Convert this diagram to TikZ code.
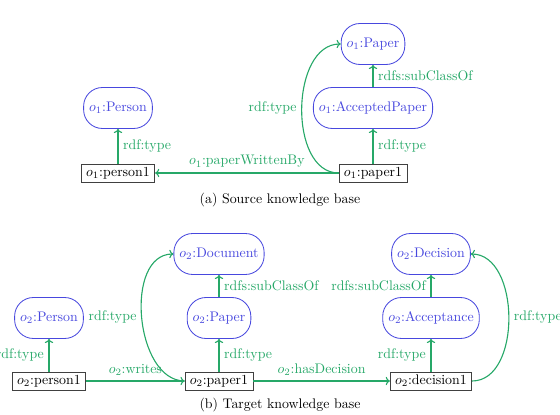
\documentclass[tikz,border=0pt]{standalone}
\usetikzlibrary{arrows.meta}
\definecolor{cblue}{RGB}{72,72,222}
\definecolor{cgreen}{RGB}{38,168,104}
\tikzset{
  classnode/.style={draw=cblue, text=cblue, rounded corners=13.5pt, minimum height=29.5pt, inner xsep=4pt, line width=0.6pt},
  instnode/.style={draw=black!75, text=black, minimum height=13pt, inner xsep=3.5pt, inner ysep=2pt, line width=0.6pt},
  edge/.style={draw=cgreen, line width=0.8pt, -{To[length=3pt,width=6pt]}},
  elabel/.style={text=cgreen, font=\normalsize},
}
\begin{document}
\begin{tikzpicture}[x=0.72pt,y=-0.72pt]
\useasboundingbox (0,0) rectangle (560,415);
% (a) source
\node[classnode] (a1person) at (118,108) {$o_1$:Person};
\node[instnode] (a1person1) at (118,173) {$o_1$:person1};
\node[instnode] (a1paper1) at (373,173) {$o_1$:paper1};
\node[classnode] (a1acc) at (373,108) {$o_1$:AcceptedPaper};
\node[classnode] (a1paper) at (373,44) {$o_1$:Paper};
\draw[edge] (a1person1) -- node[elabel,right] {rdf:type} (a1person);
\draw[edge] (a1paper1) -- node[elabel,above] {$o_1$:paperWrittenBy} (a1person1);
\draw[edge] (a1paper1) -- node[elabel,right] {rdf:type} (a1acc);
\draw[edge] (a1acc) -- node[elabel,right] {rdfs:subClassOf} (a1paper);
\draw[edge] (a1paper1.west) to[out=180,in=180] node[elabel,left] {rdf:type} (a1paper.west);
\node (capa) at (280,200) {(a) Source knowledge base};
% (b) target
\node[classnode] (b2person) at (49,318) {$o_2$:Person};
\node[instnode] (b2person1) at (49,381) {$o_2$:person1};
\node[instnode] (b2paper1) at (219,381) {$o_2$:paper1};
\node[classnode] (b2paper) at (219,318) {$o_2$:Paper};
\node[classnode] (b2doc) at (219,254) {$o_2$:Document};
\node[instnode] (b2dec1) at (431,381) {$o_2$:decision1};
\node[classnode] (b2acc) at (431,318) {$o_2$:Acceptance};
\node[classnode] (b2dec) at (431,254) {$o_2$:Decision};
\draw[edge] (b2person1) -- node[elabel,left] {rdf:type} (b2person);
\draw[edge] (b2person1) -- node[elabel,above] {$o_2$:writes} (b2paper1);
\draw[edge] (b2paper1) -- node[elabel,right] {rdf:type} (b2paper);
\draw[edge] (b2paper) -- node[elabel,right] {rdfs:subClassOf} (b2doc);
\draw[edge] (b2paper1.west) to[out=180,in=180] node[elabel,left] {rdf:type} (b2doc.west);
\draw[edge] (b2paper1) -- node[elabel,above] {$o_2$:hasDecision} (b2dec1);
\draw[edge] (b2dec1) -- node[elabel,left] {rdf:type} (b2acc);
\draw[edge] (b2acc) -- node[elabel,left] {rdfs:subClassOf} (b2dec);
\draw[edge] (b2dec1.east) to[out=0,in=0] node[elabel,right] {rdf:type} (b2dec.east);
\node (capb) at (280,405) {(b) Target knowledge base};
\end{tikzpicture}
\end{document}
